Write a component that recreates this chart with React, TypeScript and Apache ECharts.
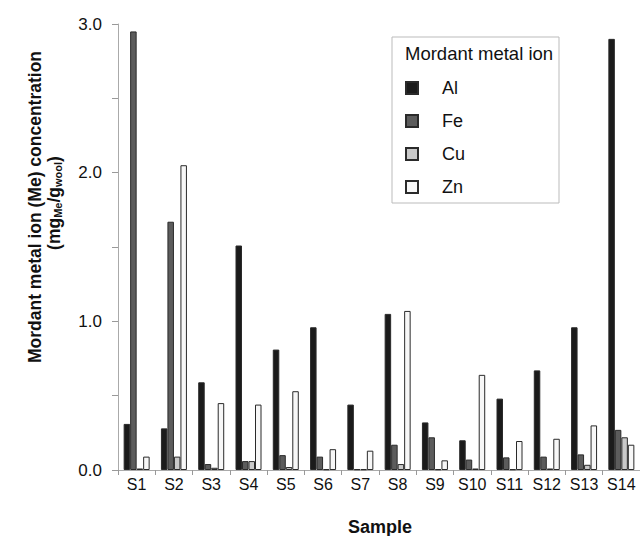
import React, { useEffect, useRef } from "react";
import * as echarts from "echarts";

const categories = ["S1","S2","S3","S4","S5","S6","S7","S8","S9","S10","S11","S12","S13","S14"];
const alValues = [0.31,0.28,0.59,1.51,0.81,0.96,0.44,1.05,0.32,0.20,0.48,0.67,0.96,2.90];
const feValues = [2.95,1.67,0.04,0.06,0.10,0.09,0.005,0.17,0.22,0.07,0.085,0.09,0.105,0.27];
const cuValues = [0.01,0.09,0.015,0.06,0.02,0.005,0.005,0.04,0.005,0.01,0.005,0.01,0.035,0.22];
const znValues = [0.09,2.05,0.45,0.44,0.53,0.14,0.13,1.07,0.065,0.64,0.195,0.21,0.30,0.17];
const seriesNames = ["Al","Fe","Cu","Zn"];
const seriesColors = ["#1b1b1b","#5c5c5c","#c9c9c9","#f7f7f7"];
const yTicks = [0, 1, 2, 3];

const FONT = "'Liberation Sans', Arial, sans-serif";

export default function App() {
  const ref = useRef<HTMLDivElement>(null);
  useEffect(() => {
    document.body.style.margin = "0";
    const chart = echarts.init(ref.current!, null, { renderer: "svg" });
    const data = [alValues, feValues, cuValues, znValues];
    chart.setOption({
      animation: false,
      textStyle: { fontFamily: FONT },
      grid: { left: 118, top: 24, bottom: 66, width: 523 },
      xAxis: {
        type: "category",
        data: categories,
        axisLine: { lineStyle: { color: "#aaaaaa", width: 1 } },
        axisTick: { show: true, length: 5, lineStyle: { color: "#999999" } },
        axisLabel: { color: "#111", fontSize: 16, margin: 6, fontFamily: FONT, interval: 0 },
      },
      yAxis: {
        type: "value",
        min: 0,
        max: 3,
        interval: 0.5,
        axisLine: { show: true, lineStyle: { color: "#aaaaaa", width: 1 } },
        axisTick: { show: true, length: 6, lineStyle: { color: "#999999" } },
        splitLine: { show: false },
        axisLabel: {
          color: "#111",
          fontSize: 17,
          margin: 16,
          fontFamily: FONT,
          formatter: (v: number) => (yTicks.includes(v) ? v.toFixed(1) : ""),
        },
      },
      legend: {
        orient: "vertical",
        left: 400,
        top: 74,
        itemWidth: 12,
        itemHeight: 12,
        itemGap: 15,
        icon: "rect",
        data: seriesNames,
        textStyle: { fontSize: 18, color: "#111", fontFamily: FONT, padding: [0, 0, 0, 19] },
      },
      series: seriesNames.map((name, i) => ({
        name,
        type: "bar",
        data: data[i],
        barWidth: 6.5,
        barGap: "0%",
        itemStyle: { color: seriesColors[i], borderColor: "#2a2a2a", borderWidth: 1 },
      })),
      graphic: [
        {
          type: "rect",
          shape: { x: 392, y: 37, width: 167, height: 166 },
          style: { fill: "#ffffff", stroke: "#bbbbbb", lineWidth: 1 },
          z: 0,
          zlevel: 0,
        },
        {
          type: "text",
          x: 405,
          y: 53,
          style: { text: "Mordant metal ion", font: `18.5px ${FONT}`, fill: "#111", verticalAlign: "middle" },
        },
        {
          type: "text",
          x: 35,
          y: 207,
          rotation: Math.PI / 2,
          style: {
            text: "Mordant metal ion (Me) concentration",
            font: `bold 17.5px ${FONT}`,
            fill: "#111",
            align: "center",
            verticalAlign: "middle",
          },
        },
        {
          type: "text",
          x: 54,
          y: 203,
          rotation: Math.PI / 2,
          style: {
            text: "(mg{sub|Me}/g{sub|wool})",
            font: `bold 17.5px ${FONT}`,
            fill: "#111",
            align: "center",
            verticalAlign: "middle",
            rich: {
              sub: { fontSize: 11, fontWeight: "bold", fontFamily: FONT, fill: "#111", padding: [8, 0, 0, 0] },
            },
          },
        },
        {
          type: "text",
          x: 380,
          y: 527,
          style: { text: "Sample", font: `bold 18px ${FONT}`, fill: "#111", align: "center", verticalAlign: "middle" },
        },
      ],
    });
    return () => chart.dispose();
  }, []);
  return <div ref={ref} style={{ width: 640, height: 536 }} />;
}
